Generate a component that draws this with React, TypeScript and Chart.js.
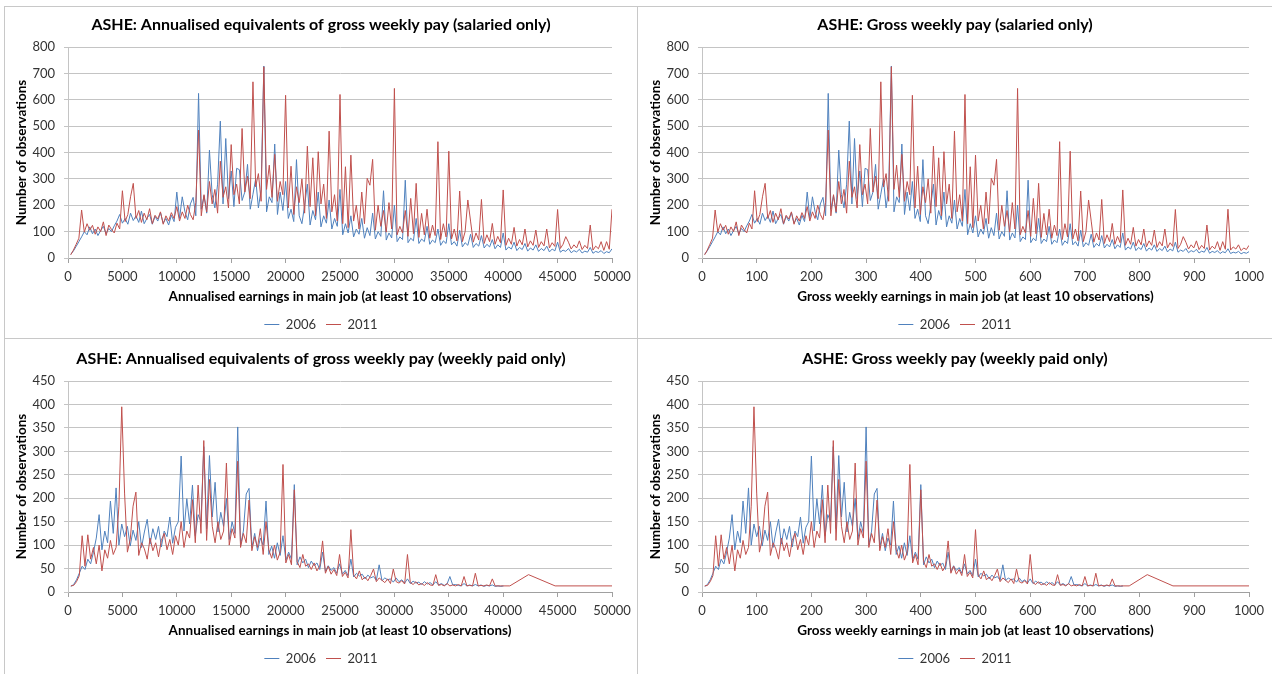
import React, { useEffect, useRef } from 'react';
import { Chart, registerables } from 'chart.js';

Chart.register(...registerables);

// ---------------- DATA ----------------
const SERIES_LABELS = ['2006', '2011'];

const TITLES = [
  'ASHE: Annualised equivalents of gross weekly pay (salaried only)',
  'ASHE: Gross weekly pay (salaried only)',
  'ASHE: Annualised equivalents of gross weekly pay (weekly paid only)',
  'ASHE: Gross weekly pay (weekly paid only)',
];
const X_TITLE_ANNUAL = 'Annualised earnings in main job (at least 10 observations)';
const X_TITLE_WEEKLY = 'Gross weekly earnings in main job (at least 10 observations)';
const Y_TITLE = 'Number of observations';

// Salaried: counts per £250 band of annualised pay, from £250 to £52,000
const SALARIED_FIRST_BAND = 250;
const SALARIED_BAND_WIDTH = 250;
const SALARIED_2006 = [
  14, 27, 44, 62, 80, 100, 88, 118, 92, 110, 85, 104, 120, 92, 112, 100, 122, 140, 165, 132,
  150, 128, 170, 142, 160, 135, 178, 130, 150, 165, 128, 158, 140, 172, 132, 150, 125, 162, 138, 250,
  150, 232, 175, 145, 205, 230, 160, 624, 185, 236, 170, 409, 240, 190, 280, 519, 205, 453, 225, 330,
  195, 340, 335, 218, 250, 355, 185, 242, 300, 190, 260, 728, 175, 232, 210, 432, 165, 250, 180, 290,
  150, 185, 138, 373, 160, 130, 200, 280, 125, 180, 145, 250, 118, 160, 132, 220, 110, 150, 120, 260,
  88, 130, 95, 160, 80, 110, 90, 150, 75, 115, 85, 170, 72, 100, 82, 255, 68, 95, 76, 200,
  62, 80, 70, 295, 58, 75, 65, 150, 55, 72, 62, 120, 52, 68, 58, 110, 48, 65, 55, 130,
  50, 62, 45, 105, 42, 58, 48, 90, 40, 55, 45, 85, 38, 52, 42, 70, 35, 50, 40, 95,
  30, 42, 34, 60, 28, 40, 32, 55, 26, 38, 30, 50, 25, 36, 28, 45, 23, 34, 27, 60,
  22, 30, 25, 36, 20, 28, 23, 33, 19, 26, 22, 40, 18, 25, 21, 28, 17, 24, 20, 35,
  17, 22, 19, 25, 16, 21, 18, 24,
];
const SALARIED_2011 = [
  12, 30, 52, 75, 182, 98, 130, 105, 124, 90, 118, 100, 137, 85, 125, 108, 95, 132, 110, 255,
  138, 165, 232, 283, 150, 180, 135, 170, 145, 187, 130, 162, 148, 175, 128, 160, 140, 172, 150, 195,
  140, 175, 150, 200, 165, 145, 210, 485, 160, 240, 175, 290, 205, 260, 170, 367, 230, 270, 190, 430,
  240, 280, 205, 491, 250, 310, 225, 668, 270, 320, 215, 725, 260, 352, 230, 393, 215, 290, 240, 617,
  190, 348, 165, 270, 210, 300, 170, 424, 195, 380, 160, 403, 205, 280, 150, 481, 175, 240, 140, 620,
  130, 346, 115, 390, 140, 200, 110, 250, 130, 302, 276, 374, 105, 200, 120, 180, 98, 210, 110, 643,
  88, 120, 95, 180, 82, 226, 92, 283, 78, 169, 88, 185, 75, 125, 85, 441, 70, 130, 80, 405,
  72, 110, 65, 254, 62, 100, 220, 140, 60, 95, 68, 222, 55, 88, 62, 131, 52, 82, 58, 258,
  48, 75, 52, 116, 45, 70, 50, 110, 42, 65, 48, 106, 40, 62, 46, 110, 38, 58, 44, 184,
  36, 52, 81, 60, 34, 50, 38, 65, 32, 48, 36, 125, 30, 45, 35, 62, 29, 62, 33, 185,
  30, 42, 34, 50, 28, 38, 32, 48,
];

// Weekly paid: counts per £5 band of gross weekly pay, from £5 to £770
const WEEKLY_FIRST_BAND = 5;
const WEEKLY_BAND_WIDTH = 5;
const WEEKLY_PAID_2006 = [
  12, 16, 26, 40, 55, 48, 70, 60, 85, 115,
  165, 90, 130, 105, 194, 125, 222, 100, 145, 118,
  140, 98, 132, 110, 150, 95, 128, 155, 102, 135,
  112, 140, 96, 130, 118, 160, 104, 138, 150, 290,
  130, 199, 145, 228, 120, 165, 150, 310, 135, 291,
  160, 234, 128, 170, 140, 200, 112, 150, 125, 352,
  100, 130, 209, 221, 95, 125, 88, 115, 100, 194,
  80, 98, 72, 105, 78, 120, 68, 85, 70, 229,
  58, 75, 62, 70, 52, 66, 56, 62, 48, 85,
  44, 56, 46, 52, 40, 60, 38, 46, 35, 70,
  32, 40, 34, 38, 28, 36, 30, 33, 25, 58,
  24, 30, 26, 28, 21, 30, 22, 26, 19, 28,
  18, 23, 19, 21, 16, 22, 17, 20, 15, 22,
  15, 18, 14, 17, 33, 15, 16, 14, 13, 18,
  13, 15, 13, 16, 13, 15, 12, 14, 13, 15,
  12, 13, 12, 13,
];
const WEEKLY_PAID_2011 = [
  13, 14, 22, 35, 120, 55, 122, 70, 95, 60,
  100, 45, 90, 72, 110, 80, 95, 183, 395, 211,
  85, 112, 183, 213, 78, 105, 92, 70, 115, 88,
  105, 75, 110, 125, 90, 112, 80, 120, 100, 150,
  95, 130, 115, 197, 105, 228, 125, 323, 110, 240,
  140, 105, 150, 112, 130, 275, 100, 135, 115, 279,
  95, 125, 105, 196, 88, 118, 95, 135, 80, 150,
  90, 72, 100, 68, 85, 272, 62, 80, 58, 218,
  65, 52, 80, 55, 60, 48, 62, 45, 55, 109,
  40, 55, 38, 48, 35, 80, 33, 42, 30, 133,
  36, 28, 45, 26, 32, 24, 35, 49, 22, 30,
  25, 20, 28, 18, 49, 22, 19, 24, 17, 80,
  20, 16, 22, 15, 18, 14, 20, 15, 14, 37,
  14, 16, 13, 18, 13, 15, 13, 16, 13, 33,
  13, 14, 13, 40, 13, 14, 13, 15, 13, 28,
  13, 13, 13, 13,
];
// sparse upper tail of 2011 weekly paid (weekly £, count)
const WEEKLY_PAID_2011_TAIL_PAY = [781, 814, 861, 1000];
const WEEKLY_PAID_2011_TAIL_COUNT = [13, 37, 13, 13];

const WEEKS_PER_YEAR = 52;

// ---------------- STYLE ----------------
const FONT = 'Lato';
const BLUE = '#4F81BD';
const RED = '#C0504D';
const GRID = '#c4c4c4';
const AXIS = '#a0a0a0';
const TEXT = '#333333';

type Pt = { x: number; y: number };

const salariedAnnual = SALARIED_2006.map((_, i) => SALARIED_FIRST_BAND + i * SALARIED_BAND_WIDTH);
const weeklyPay = WEEKLY_PAID_2006.map((_, i) => WEEKLY_FIRST_BAND + i * WEEKLY_BAND_WIDTH);

const sal06Annual: Pt[] = salariedAnnual.map((a, i) => ({ x: a, y: SALARIED_2006[i] }));
const sal11Annual: Pt[] = salariedAnnual.map((a, i) => ({ x: a, y: SALARIED_2011[i] }));
const sal06Weekly: Pt[] = salariedAnnual.map((a, i) => ({ x: a / WEEKS_PER_YEAR, y: SALARIED_2006[i] }));
const sal11Weekly: Pt[] = salariedAnnual.map((a, i) => ({ x: a / WEEKS_PER_YEAR, y: SALARIED_2011[i] }));

const wk11Pay = weeklyPay.concat(WEEKLY_PAID_2011_TAIL_PAY);
const wk11Count = WEEKLY_PAID_2011.concat(WEEKLY_PAID_2011_TAIL_COUNT);
const wk06Weekly: Pt[] = weeklyPay.map((w, i) => ({ x: w, y: WEEKLY_PAID_2006[i] }));
const wk11Weekly: Pt[] = wk11Pay.map((w, i) => ({ x: w, y: wk11Count[i] }));
const wk06Annual: Pt[] = weeklyPay.map((w, i) => ({ x: w * WEEKS_PER_YEAR, y: WEEKLY_PAID_2006[i] }));
const wk11Annual: Pt[] = wk11Pay.map((w, i) => ({ x: w * WEEKS_PER_YEAR, y: wk11Count[i] }));

type PanelCfg = {
  left: number; top: number; width: number; height: number;
  title: string; xTitle: string;
  xMax: number; xStep: number; yMax: number; yStep: number;
  d06: Pt[]; d11: Pt[];
  titleTop: number; titleBottom: number;
  xAxisHeight: number; xTitleBottom: number; rightGap: number;
};

const PANELS: PanelCfg[] = [
  { left: 5, top: 7, width: 632, height: 334, title: TITLES[0], xTitle: X_TITLE_ANNUAL,
    xMax: 50000, xStep: 5000, yMax: 800, yStep: 100, d06: sal06Annual, d11: sal11Annual,
    titleTop: 8, titleBottom: 12.8, xAxisHeight: 50, xTitleBottom: 3, rightGap: 25 },
  { left: 639, top: 7, width: 632, height: 334, title: TITLES[1], xTitle: X_TITLE_WEEKLY,
    xMax: 1000, xStep: 100, yMax: 800, yStep: 100, d06: sal06Weekly, d11: sal11Weekly,
    titleTop: 8, titleBottom: 12.8, xAxisHeight: 50, xTitleBottom: 3, rightGap: 22 },
  { left: 5, top: 340, width: 632, height: 335, title: TITLES[2], xTitle: X_TITLE_ANNUAL,
    xMax: 50000, xStep: 5000, yMax: 450, yStep: 50, d06: wk06Annual, d11: wk11Annual,
    titleTop: 9, titleBottom: 12.8, xAxisHeight: 50, xTitleBottom: 3, rightGap: 25 },
  { left: 639, top: 340, width: 632, height: 335, title: TITLES[3], xTitle: X_TITLE_WEEKLY,
    xMax: 1000, xStep: 100, yMax: 450, yStep: 50, d06: wk06Weekly, d11: wk11Weekly,
    titleTop: 9, titleBottom: 12.8, xAxisHeight: 50, xTitleBottom: 3, rightGap: 22 },
];

function Panel({ cfg }: { cfg: PanelCfg }) {
  const ref = useRef<HTMLCanvasElement | null>(null);
  useEffect(() => {
    if (!ref.current) return;
    const chart = new Chart(ref.current, {
      type: 'line',
      data: {
        // 2011 listed first so it is drawn over 2006; legend is reversed back to 2006, 2011
        datasets: [
          { label: SERIES_LABELS[1], data: cfg.d11 as any, borderColor: RED, backgroundColor: RED,
            borderWidth: 1, pointRadius: 0, tension: 0, yAxisID: 'y' },
          { label: SERIES_LABELS[0], data: cfg.d06 as any, borderColor: BLUE, backgroundColor: BLUE,
            borderWidth: 1, pointRadius: 0, tension: 0, yAxisID: 'y' },
        ],
      },
      options: {
        animation: false,
        responsive: false,
        maintainAspectRatio: false,
        events: [],
        layout: { padding: 0 },
        plugins: {
          title: {
            display: true, text: cfg.title, color: '#000',
            font: { family: FONT, size: 16, weight: 'bold' },
            padding: { top: cfg.titleTop, bottom: cfg.titleBottom },
          },
          legend: {
            position: 'bottom',
            reverse: true,
            labels: {
              usePointStyle: true, pointStyle: 'line', pointStyleWidth: 15,
              font: { family: FONT, size: 13 }, color: TEXT, padding: 10,
            },
          },
          tooltip: { enabled: false },
        },
        scales: {
          x: {
            type: 'linear', min: 0, max: cfg.xMax,
            ticks: { stepSize: cfg.xStep, autoSkip: false, maxRotation: 0, padding: 6,
              color: TEXT, font: { family: FONT, size: 13 }, callback: (v: any) => String(v) },
            grid: { drawOnChartArea: false, drawTicks: true, tickLength: 5, color: AXIS },
            border: { display: true, color: AXIS },
            title: { display: true, text: cfg.xTitle, color: '#000',
              font: { family: FONT, size: 13.5, weight: 'bold' }, padding: { top: 0, bottom: cfg.xTitleBottom } },
            afterFit: (s: any) => { s.height = cfg.xAxisHeight; },
          },
          y: {
            type: 'linear', min: 0, max: cfg.yMax, position: 'left',
            ticks: { stepSize: cfg.yStep, padding: 9, color: TEXT, font: { family: FONT, size: 13 },
              callback: (v: any) => String(v) },
            grid: { color: GRID, tickLength: 4 },
            border: { display: true, color: GRID },
            title: { display: true, text: Y_TITLE, color: '#000',
              font: { family: FONT, size: 13.5, weight: 'bold' }, padding: { top: 9, bottom: 0 } },
            afterFit: (s: any) => { s.width = 63; },
          },
          yRight: {
            type: 'linear', position: 'right', display: true,
            ticks: { display: false }, grid: { display: false }, border: { display: false },
            afterFit: (s: any) => { s.width = cfg.rightGap; },
          },
        },
      } as any,
    });
    return () => chart.destroy();
  }, [cfg]);
  return (
    <canvas ref={ref} width={cfg.width} height={cfg.height}
      style={{ position: 'absolute', left: cfg.left, top: cfg.top, width: cfg.width, height: cfg.height }} />
  );
}

const BORDERS = [
  { left: 4, top: 6, width: 634, height: 333 },
  { left: 637, top: 6, width: 640, height: 333 },
  { left: 4, top: 338, width: 634, height: 345 },
  { left: 637, top: 338, width: 640, height: 345 },
];

export default function App() {
  return (
    <div style={{ position: 'fixed', left: 0, top: 0, width: 1272, height: 674, overflow: 'hidden', background: '#fff' }}>
      {BORDERS.map((b, i) => (
        <div key={'b' + i} style={{ position: 'absolute', left: b.left, top: b.top, width: b.width, height: b.height,
          border: '1px solid #c8c8c8', boxSizing: 'border-box' }} />
      ))}
      {PANELS.map((p, i) => <Panel key={i} cfg={p} />)}
    </div>
  );
}
